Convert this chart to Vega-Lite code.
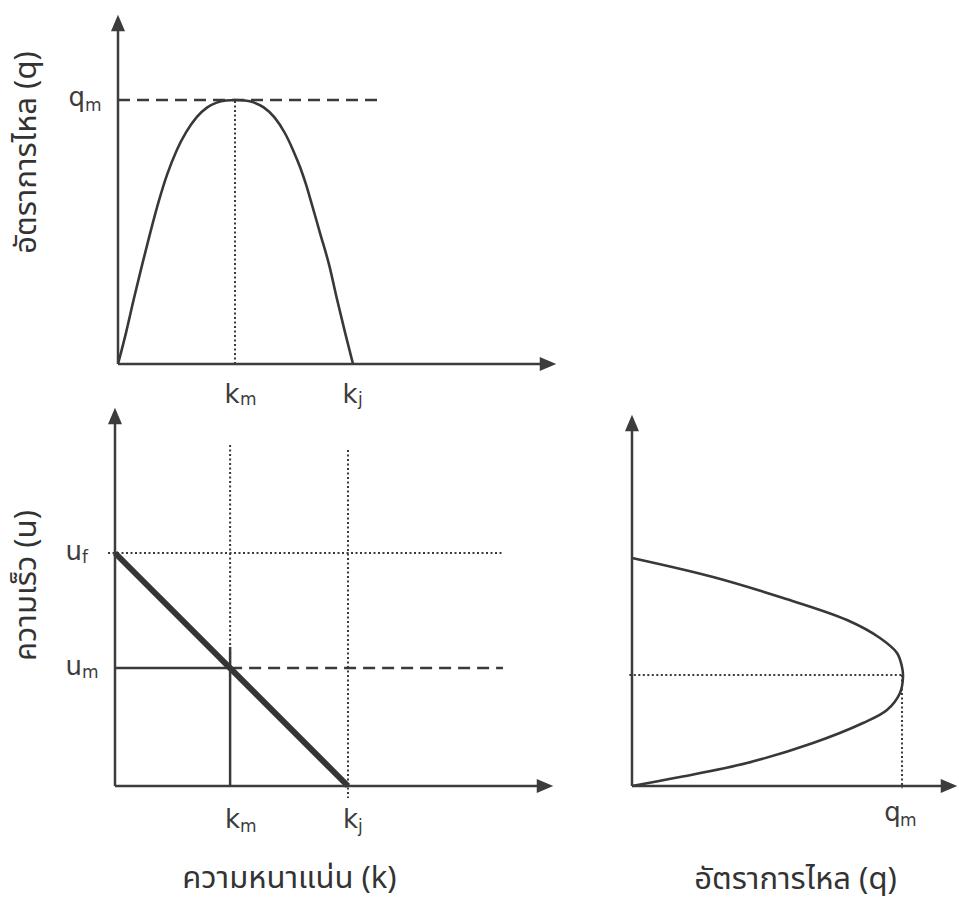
{
  "$schema": "https://vega.github.io/schema/vega-lite/v6.json",
  "padding": 0,
  "background": "white",
  "spacing": 0,
  "bounds": "flush",
  "config": {"view": {"stroke": null}, "concat": {"spacing": 0}, "axis": {"titleFontWeight": "normal", "titleColor": "#333333", "titleFont": "Noto Sans, Noto Sans Thai, sans-serif"}},
  "datasets": {
    "axesA": [{"k": 0, "q": 0, "k2": 0, "q2": 1.27}, {"k": 0, "q": 0, "k2": 1.81, "q2": 0}],
    "arrowUpA": [{"k": 0, "q": 1.2917}],
    "arrowRightA": [{"k": 1.8298, "q": 0}],
    "curveA": [
      {"k": 0, "q": 0}, {"k": 0.034, "q": 0.118}, {"k": 0.067, "q": 0.245}, {"k": 0.101, "q": 0.37},
      {"k": 0.136, "q": 0.493}, {"k": 0.172, "q": 0.612}, {"k": 0.21, "q": 0.72}, {"k": 0.25, "q": 0.81},
      {"k": 0.29, "q": 0.878}, {"k": 0.335, "q": 0.935}, {"k": 0.38, "q": 0.972}, {"k": 0.42, "q": 0.99},
      {"k": 0.46, "q": 0.998}, {"k": 0.5, "q": 1.0}, {"k": 0.54, "q": 0.998}, {"k": 0.58, "q": 0.99},
      {"k": 0.62, "q": 0.972}, {"k": 0.665, "q": 0.935}, {"k": 0.71, "q": 0.875}, {"k": 0.745, "q": 0.81},
      {"k": 0.775, "q": 0.745}, {"k": 0.8, "q": 0.68}, {"k": 0.82, "q": 0.62}, {"k": 0.86, "q": 0.495},
      {"k": 0.9, "q": 0.37}, {"k": 0.932, "q": 0.245}, {"k": 0.966, "q": 0.12}, {"k": 1.0, "q": 0}
    ],
    "dashA": [{"k": 0, "q": 1, "k2": 1.1234, "q2": 1}],
    "dotA": [{"k": 0.4979, "q": 0, "k2": 0.4979, "q2": 1}],
    "ylabA": [{"k": 0, "q": 1, "main": "q", "sub": "m"}],
    "xlabA": [{"k": 0.4979, "q": 0, "main": "k", "sub": "m"}, {"k": 1, "q": 0, "main": "k", "sub": "j"}],
    "axesB": [{"k": 0, "u": 0, "k2": 0, "u2": 1.57}, {"k": 0, "u": 0, "k2": 1.83, "u2": 0}],
    "arrowUpB": [{"k": 0, "u": 1.588}],
    "arrowRightB": [{"k": 1.8455, "u": 0}],
    "dotB": [
      {"k": -0.03, "u": 1, "k2": 1.665, "u2": 1},
      {"k": 0.494, "u": 1.4635, "k2": 0.494, "u2": 0.506},
      {"k": 1, "u": 1.442, "k2": 1, "u2": -0.0515}
    ],
    "dashB": [{"k": 0.494, "u": 0.506, "k2": 1.665, "u2": 0.506}],
    "thinB": [{"k": 0, "u": 0.506, "k2": 0.494, "u2": 0.506}, {"k": 0.494, "u": 0.597, "k2": 0.494, "u2": 0}],
    "thickB": [{"k": 0, "u": 1, "k2": 1, "u2": 0}],
    "ylabB": [{"k": 0, "u": 1, "main": "u", "sub": "f"}, {"k": 0, "u": 0.506, "main": "u", "sub": "m"}],
    "xlabB": [{"k": 0.494, "u": 0, "main": "k", "sub": "m"}, {"k": 1, "u": 0, "main": "k", "sub": "j"}],
    "axesC": [{"q": 0, "u": 0, "q2": 0, "u2": 1.57}, {"q": 0, "u": 0, "q2": 1.16, "u2": 0}],
    "arrowUpC": [{"q": 0, "u": 1.5921}],
    "arrowRightC": [{"q": 1.1741, "u": 0}],
    "curveC": [
      {"q": 0, "u": 1.0}, {"q": 0.3, "u": 0.9167}, {"q": 0.5481, "u": 0.8289}, {"q": 0.7963, "u": 0.7281},
      {"q": 0.9185, "u": 0.6491}, {"q": 0.9815, "u": 0.5833}, {"q": 1.0, "u": 0.5219}, {"q": 1.0037, "u": 0.478},
      {"q": 0.9926, "u": 0.4079}, {"q": 0.9444, "u": 0.3333}, {"q": 0.8556, "u": 0.2763}, {"q": 0.6704, "u": 0.1886},
      {"q": 0.4259, "u": 0.1009}, {"q": 0.1778, "u": 0.0395}, {"q": 0, "u": 0}
    ],
    "dotC": [{"q": -0.01, "u": 0.487, "q2": 1.0, "u2": 0.487}, {"q": 1.0, "u": 0.487, "q2": 1.0, "u2": -0.01}],
    "xlabC": [{"q": 1.0, "u": 0, "main": "q", "sub": "m"}]
  },
  "vconcat": [
    {
      "width": 580,
      "height": 400,
      "encoding": {
        "x": {"field": "k", "type": "quantitative", "scale": {"domain": [-0.50213, 1.96596], "nice": false, "zero": false}, "axis": null},
        "y": {"field": "q", "type": "quantitative", "scale": {"domain": [-0.13636, 1.37879], "nice": false, "zero": false},
          "axis": {"domain": false, "ticks": false, "labels": false, "grid": false, "title": "อัตราการไหล (q)", "titleX": 35, "titleY": 152, "titleAngle": -90, "titleAlign": "center", "titleBaseline": "alphabetic", "titleFontSize": 31}}
      },
      "layer": [
        {"data": {"name": "dotA"}, "mark": {"type": "rule", "color": "#3a3a3a", "strokeWidth": 2, "strokeDash": [2, 2.5]}, "encoding": {"x2": {"field": "k2"}, "y2": {"field": "q2"}}},
        {"data": {"name": "dashA"}, "mark": {"type": "rule", "color": "#3a3a3a", "strokeWidth": 2.5, "strokeDash": [12, 7]}, "encoding": {"x2": {"field": "k2"}, "y2": {"field": "q2"}}},
        {"data": {"name": "curveA"}, "mark": {"type": "line", "interpolate": "monotone", "color": "#383838", "strokeWidth": 2.6}},
        {"data": {"name": "axesA"}, "mark": {"type": "rule", "color": "#3c3c3c", "strokeWidth": 2.5}, "encoding": {"x2": {"field": "k2"}, "y2": {"field": "q2"}}},
        {"data": {"name": "arrowUpA"}, "mark": {"type": "point", "shape": "M0,-1L0.85,1L-0.85,1Z", "size": 272, "filled": true, "color": "#3c3c3c", "opacity": 1, "strokeWidth": 0}},
        {"data": {"name": "arrowRightA"}, "mark": {"type": "point", "shape": "M1,0L-1,0.85L-1,-0.85Z", "size": 272, "filled": true, "color": "#3c3c3c", "opacity": 1, "strokeWidth": 0}},
        {"data": {"name": "ylabA"}, "mark": {"type": "text", "align": "right", "baseline": "alphabetic", "dx": -33, "dy": 6, "fontSize": 26, "font": "DejaVu Sans", "color": "#3c3c3c"}, "encoding": {"text": {"field": "main"}}},
        {"data": {"name": "ylabA"}, "mark": {"type": "text", "align": "left", "baseline": "alphabetic", "dx": -33, "dy": 11, "fontSize": 17, "font": "DejaVu Sans", "color": "#3c3c3c"}, "encoding": {"text": {"field": "sub"}}},
        {"data": {"name": "xlabA"}, "mark": {"type": "text", "align": "center", "baseline": "alphabetic", "dx": -3, "dy": 39, "fontSize": 26, "font": "DejaVu Sans", "color": "#3c3c3c"}, "encoding": {"text": {"field": "main"}}},
        {"data": {"name": "xlabA"}, "mark": {"type": "text", "align": "left", "baseline": "alphabetic", "dx": 5, "dy": 41, "fontSize": 17, "font": "DejaVu Sans", "color": "#3c3c3c"}, "encoding": {"text": {"field": "sub"}}}
      ]
    },
    {
      "spacing": 0,
      "bounds": "flush",
      "hconcat": [
        {
          "width": 580,
          "height": 499,
          "encoding": {
            "x": {"field": "k", "type": "quantitative", "scale": {"domain": [-0.49356, 1.99571], "nice": false, "zero": false},
              "axis": {"domain": false, "ticks": false, "labels": false, "grid": false, "title": "ความหนาแน่น (k)", "titleX": 289, "titleY": -12, "titleAngle": 0, "titleAlign": "center", "titleBaseline": "alphabetic", "titleFontSize": 31}},
            "y": {"field": "u", "type": "quantitative", "scale": {"domain": [-0.48498, 1.65665], "nice": false, "zero": false},
              "axis": {"domain": false, "ticks": false, "labels": false, "grid": false, "title": "ความเร็ว (u)", "titleX": 35, "titleY": 185, "titleAngle": -90, "titleAlign": "center", "titleBaseline": "alphabetic", "titleFontSize": 31}}
          },
          "layer": [
            {"data": {"name": "dotB"}, "mark": {"type": "rule", "color": "#3a3a3a", "strokeWidth": 2, "strokeDash": [2, 2.5]}, "encoding": {"x2": {"field": "k2"}, "y2": {"field": "u2"}}},
            {"data": {"name": "dashB"}, "mark": {"type": "rule", "color": "#3a3a3a", "strokeWidth": 2.5, "strokeDash": [12, 7]}, "encoding": {"x2": {"field": "k2"}, "y2": {"field": "u2"}}},
            {"data": {"name": "thinB"}, "mark": {"type": "rule", "color": "#3a3a3a", "strokeWidth": 2.5}, "encoding": {"x2": {"field": "k2"}, "y2": {"field": "u2"}}},
            {"data": {"name": "thickB"}, "mark": {"type": "rule", "color": "#353535", "strokeWidth": 6}, "encoding": {"x2": {"field": "k2"}, "y2": {"field": "u2"}}},
            {"data": {"name": "axesB"}, "mark": {"type": "rule", "color": "#3c3c3c", "strokeWidth": 2.5}, "encoding": {"x2": {"field": "k2"}, "y2": {"field": "u2"}}},
            {"data": {"name": "arrowUpB"}, "mark": {"type": "point", "shape": "M0,-1L0.85,1L-0.85,1Z", "size": 272, "filled": true, "color": "#3c3c3c", "opacity": 1, "strokeWidth": 0}},
            {"data": {"name": "arrowRightB"}, "mark": {"type": "point", "shape": "M1,0L-1,0.85L-1,-0.85Z", "size": 272, "filled": true, "color": "#3c3c3c", "opacity": 1, "strokeWidth": 0}},
            {"data": {"name": "ylabB"}, "mark": {"type": "text", "align": "right", "baseline": "alphabetic", "dx": -33, "dy": 7, "fontSize": 26, "font": "DejaVu Sans", "color": "#3c3c3c"}, "encoding": {"text": {"field": "main"}}},
            {"data": {"name": "ylabB"}, "mark": {"type": "text", "align": "left", "baseline": "alphabetic", "dx": -33, "dy": 10, "fontSize": 17, "font": "DejaVu Sans", "color": "#3c3c3c"}, "encoding": {"text": {"field": "sub"}}},
            {"data": {"name": "xlabB"}, "mark": {"type": "text", "align": "center", "baseline": "alphabetic", "dx": 2.5, "dy": 42, "fontSize": 26, "font": "DejaVu Sans", "color": "#3c3c3c"}, "encoding": {"text": {"field": "main"}}},
            {"data": {"name": "xlabB"}, "mark": {"type": "text", "align": "left", "baseline": "alphabetic", "dx": 10, "dy": 46, "fontSize": 17, "font": "DejaVu Sans", "color": "#3c3c3c"}, "encoding": {"text": {"field": "sub"}}}
          ]
        },
        {
          "width": 379,
          "height": 499,
          "encoding": {
            "x": {"field": "q", "type": "quantitative", "scale": {"domain": [-0.19259, 1.21111], "nice": false, "zero": false},
              "axis": {"domain": false, "ticks": false, "labels": false, "grid": false, "title": "อัตราการไหล (q)", "titleX": 215, "titleY": -11, "titleAngle": 0, "titleAlign": "center", "titleBaseline": "alphabetic", "titleFontSize": 31}},
            "y": {"field": "u", "type": "quantitative", "scale": {"domain": [-0.49561, 1.69298], "nice": false, "zero": false}, "axis": null}
          },
          "layer": [
            {"data": {"name": "dotC"}, "mark": {"type": "rule", "color": "#3a3a3a", "strokeWidth": 2, "strokeDash": [2, 2.5]}, "encoding": {"x2": {"field": "q2"}, "y2": {"field": "u2"}}},
            {"data": {"name": "curveC"}, "mark": {"type": "line", "interpolate": "catmull-rom", "color": "#383838", "strokeWidth": 2.6}, "encoding": {"order": {"field": "u", "type": "quantitative"}}},
            {"data": {"name": "axesC"}, "mark": {"type": "rule", "color": "#3c3c3c", "strokeWidth": 2.5}, "encoding": {"x2": {"field": "q2"}, "y2": {"field": "u2"}}},
            {"data": {"name": "arrowUpC"}, "mark": {"type": "point", "shape": "M0,-1L0.85,1L-0.85,1Z", "size": 272, "filled": true, "color": "#3c3c3c", "opacity": 1, "strokeWidth": 0}},
            {"data": {"name": "arrowRightC"}, "mark": {"type": "point", "shape": "M1,0L-1,0.85L-1,-0.85Z", "size": 272, "filled": true, "color": "#3c3c3c", "opacity": 1, "strokeWidth": 0}},
            {"data": {"name": "xlabC"}, "mark": {"type": "text", "align": "center", "baseline": "alphabetic", "dx": -9.5, "dy": 35, "fontSize": 26, "font": "DejaVu Sans", "color": "#3c3c3c"}, "encoding": {"text": {"field": "main"}}},
            {"data": {"name": "xlabC"}, "mark": {"type": "text", "align": "left", "baseline": "alphabetic", "dx": -2, "dy": 40, "fontSize": 17, "font": "DejaVu Sans", "color": "#3c3c3c"}, "encoding": {"text": {"field": "sub"}}}
          ]
        }
      ]
    }
  ]
}
